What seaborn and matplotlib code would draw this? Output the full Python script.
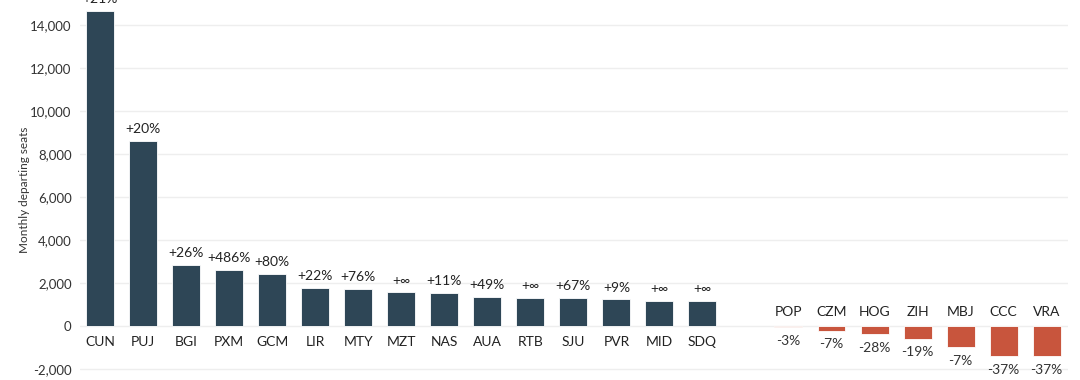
import matplotlib

matplotlib.use("Agg")

import pandas as pd
import seaborn as sns
import matplotlib.pyplot as plt
from matplotlib.ticker import FuncFormatter


gainers = ["CUN", "PUJ", "BGI", "PXM", "GCM", "LIR", "MTY", "MZT", "NAS", "AUA",
           "RTB", "SJU", "PVR", "MID", "SDQ"]
gainer_seats = [14650, 8600, 2840, 2620, 2420, 1770, 1740, 1570, 1540, 1350,
                1320, 1300, 1240, 1180, 1180]
gainer_change = ["+21%", "+20%", "+26%", "+486%", "+80%", "+22%", "+76%", "+\u221e", "+11%", "+49%",
                 "+\u221e", "+67%", "+9%", "+\u221e", "+\u221e"]

losers = ["POP", "CZM", "HOG", "ZIH", "MBJ", "CCC", "VRA"]
loser_seats = [-60, -220, -370, -600, -980, -1410, -1410]
loser_change = ["-3%", "-7%", "-28%", "-19%", "-7%", "-37%", "-37%"]

POS_COLOR = "#2e4656"
NEG_COLOR = "#c8553d"

df = pd.DataFrame({
    "airport": gainers + losers,
    "seats": gainer_seats + loser_seats,
    "change": gainer_change + loser_change,
    "side": ["up"] * len(gainers) + ["down"] * len(losers),
})
order = gainers + [" "] + losers

sns.set_style("white")
plt.rcParams["font.family"] = ["Lato", "DejaVu Sans"]

fig, ax = plt.subplots(figsize=(10.8, 3.8), dpi=100)
fig.subplots_adjust(left=0.074, right=0.989, top=1.0, bottom=0.0)

sns.barplot(data=df, x="airport", y="seats", order=order, hue="side",
            palette={"up": POS_COLOR, "down": NEG_COLOR}, dodge=False, saturation=1,
            width=0.65, edgecolor="white", linewidth=0.6, legend=False, ax=ax)

ax.set_ylim(-2510, 15160)
ax.set_xlim(-0.47, 22.5)
ax.set_yticks(range(-2000, 14001, 2000))
ax.yaxis.set_major_formatter(FuncFormatter(lambda v, _: f"{int(v):,}"))
ax.tick_params(axis="y", labelsize=9.5, colors="#333333", length=0, pad=6)
ax.set_xticks([])
ax.set_xlabel("")
ax.set_ylabel("Monthly departing seats", fontsize=8.5, color="#333333", labelpad=0)
ax.grid(axis="y", color="#eeeeee", linewidth=1)
ax.set_axisbelow(True)
sns.despine(ax=ax, left=True, bottom=True)

for row in df.itertuples():
    i = order.index(row.airport)
    if row.seats >= 0:
        ax.text(i, row.seats + 260, row.change, ha="center", va="bottom",
                fontsize=10, color="#222222")
        ax.text(i, -480, row.airport, ha="center", va="top", fontsize=10, color="#222222")
    else:
        ax.text(i, row.seats - 350, row.change, ha="center", va="top",
                fontsize=10, color="#333333")
        ax.text(i, 380, row.airport, ha="center", va="bottom", fontsize=10, color="#222222")

fig.savefig("out.png")
